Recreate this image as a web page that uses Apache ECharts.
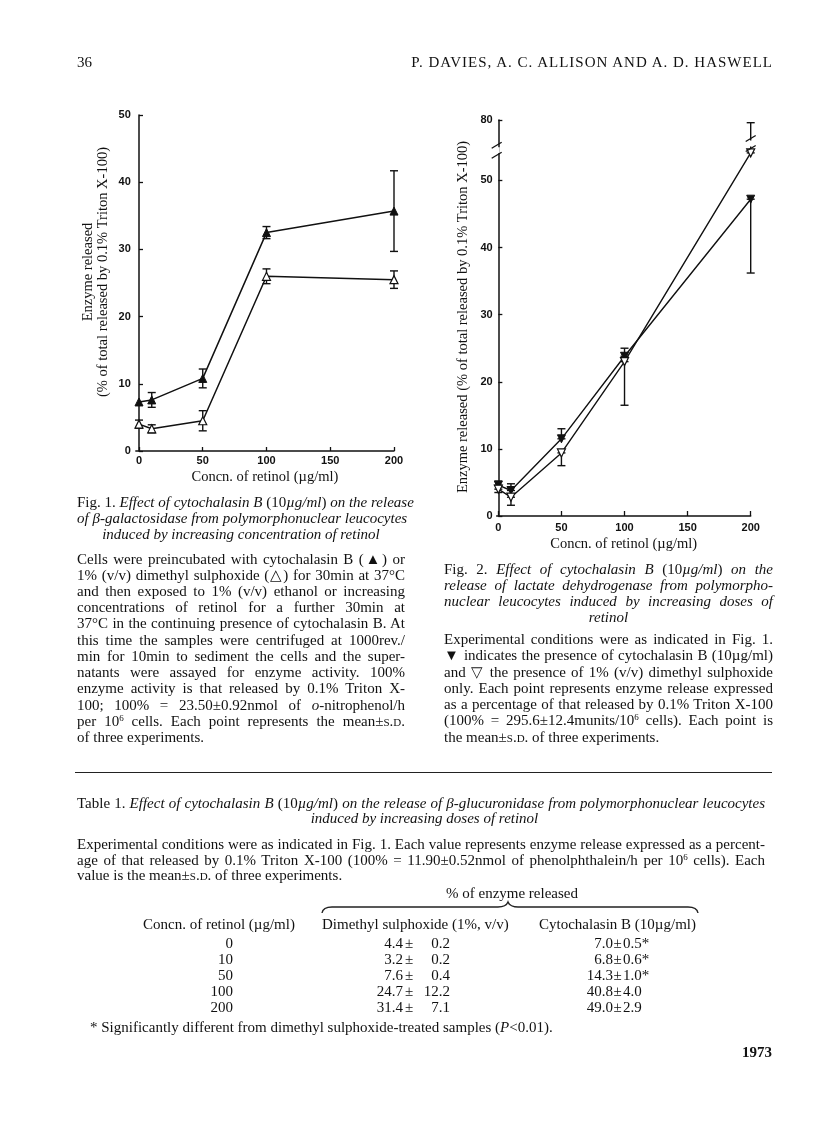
<!DOCTYPE html>
<html>
<head>
<meta charset="utf-8">
<script src="https://cdn.jsdelivr.net/npm/echarts@6/dist/echarts.min.js"></script>
<style>
  html, body { margin: 0; padding: 0; background: #fff; }
  #page { position: relative; width: 816px; height: 1136px; overflow: hidden; font-family: 'Liberation Serif', 'Times New Roman', serif; color: #111; background: #fff; }
  #chart { position: absolute; left: 0; top: 0; width: 816px; height: 1136px; }
  .ln { position: absolute; height: 16px; line-height: 16px; font-size: 15px; white-space: nowrap; }
  .j { text-align: justify; text-align-last: justify; }
  .l { text-align: left; }
  .c { text-align: center; }
  .r { text-align: right; }
  .sc { font-variant: small-caps; }
  .sup { font-size: 9px; vertical-align: 5px; line-height: 0; }
  #rule { position: absolute; left: 75px; top: 772px; width: 697px; height: 0; border-top: 1.6px solid #222; }
  #brace { position: absolute; left: 0; top: 0; }
  .cell { position: absolute; height: 16px; line-height: 16px; font-size: 15px; white-space: nowrap; }
</style>
</head>
<body>
<div id="page">
  <div id="chart"></div>
  <div id="text"></div>
  <div id="rule"></div>
  <svg id="brace" width="816" height="1136">
    <path d="M322,913 Q323,907 332,907 L498,907 Q506,907 508,902 Q510,907 518,907 L688,907 Q697,907 698,913" fill="none" stroke="#222" stroke-width="1.4"/>
  </svg>
  <div id="table"></div>
</div>
<script>
// ---------------- data ----------------
const xTicks = [0, 50, 100, 150, 200];

// Fig. 1 (beta-galactosidase)
const fig1X = [0, 10, 50, 100, 200];
const fig1CytoMean = [7.3, 7.6, 10.8, 32.5, 35.7];
const fig1CytoSD   = [0, 1.1, 1.4, 0.9, 6.0];
const fig1DmsoMean = [4.0, 3.3, 4.5, 26.0, 25.5];
const fig1DmsoSD   = [0.6, 0.6, 1.5, 1.1, 1.3];
const fig1YTicks = [0, 10, 20, 30, 40, 50];

// Fig. 2 (lactate dehydrogenase)
const fig2X = [0, 10, 50, 100, 200];
const fig2CytoMean = [4.6, 3.8, 11.5, 23.8, 47.2];
const fig2CytoLow  = [4.6, 3.8, 11.5, 23.8, 36.2];
const fig2CytoHigh = [5.2, 4.8, 13.0, 25.0, 47.2];
const fig2DmsoMean = [4.0, 2.8, 9.4, 23.0, 54.1];
const fig2DmsoLow  = [3.5, 1.6, 7.5, 16.5, 54.1];
const fig2DmsoHigh = [4.0, 2.8, 9.4, 23.0, 79.6];
const fig2YTicks = [0, 10, 20, 30, 40, 50, 80];
const fig2BreakStart = 54.5;
const fig2BreakEnd = 75.5;

// Table 1 (beta-glucuronidase)
const tblConc = [0, 10, 50, 100, 200];
const tblDmsoMean = [4.4, 3.2, 7.6, 24.7, 31.4];
const tblDmsoSD   = [0.2, 0.2, 0.4, 12.2, 7.1];
const tblCytoMean = [7.0, 6.8, 14.3, 40.8, 49.0];
const tblCytoSD   = [0.5, 0.6, 1.0, 4.0, 2.9];
const tblSignif   = [true, true, true, false, false];

// ---------------- text ----------------
const lines = [
  // [cls, left, width, centerY, html]
  ['l', 77, 100, 62, '36'],
  ['r', 380, 393, 62, '<span style="letter-spacing:1px">P. DAVIES, A. C. ALLISON AND A. D. HASWELL</span>'],
  // Fig 1 caption
  ['j', 77, 328, 502, 'Fig. 1. <i>Effect of cytochalasin B</i> (10<i>µg/ml</i>) <i>on the release</i>'],
  ['j', 77, 328, 518, '<i>of β-galactosidase from polymorphonuclear leucocytes</i>'],
  ['c', 77, 328, 534, '<i>induced by increasing concentration of retinol</i>'],
  // Fig 1 paragraph
  ['j', 77, 328, 559, 'Cells were preincubated with cytochalasin B (▲) or'],
  ['j', 77, 328, 575, '1% (v/v) dimethyl sulphoxide (△) for 30min at 37°C'],
  ['j', 77, 328, 591, 'and then exposed to 1% (v/v) ethanol or increasing'],
  ['j', 77, 328, 607, 'concentrations of retinol for a further 30min at'],
  ['j', 77, 328, 623, '37°C in the continuing presence of cytochalasin B. At'],
  ['j', 77, 328, 640, 'this time the samples were centrifuged at 1000rev./'],
  ['j', 77, 328, 656, 'min for 10min to sediment the cells and the super-'],
  ['j', 77, 328, 672, 'natants were assayed for enzyme activity. 100%'],
  ['j', 77, 328, 688, 'enzyme activity is that released by 0.1% Triton X-'],
  ['j', 77, 328, 705, '100; 100% = 23.50±0.92nmol of <i>o</i>-nitrophenol/h'],
  ['j', 77, 328, 721, 'per 10<span class="sup">6</span> cells. Each point represents the mean±<span class="sc">s.d.</span>'],
  ['l', 77, 328, 737, 'of three experiments.'],
  // Fig 2 caption
  ['j', 444, 329, 569, 'Fig. 2. <i>Effect of cytochalasin B</i> (10<i>µg/ml</i>) <i>on the</i>'],
  ['j', 444, 329, 585, '<i>release of lactate dehydrogenase from polymorpho-</i>'],
  ['j', 444, 329, 601, '<i>nuclear leucocytes induced by increasing doses of</i>'],
  ['c', 444, 329, 617, '<i>retinol</i>'],
  // Fig 2 paragraph
  ['j', 444, 329, 639, 'Experimental conditions were as indicated in Fig. 1.'],
  ['j', 444, 329, 655, '▼ indicates the presence of cytochalasin B (10µg/ml)'],
  ['j', 444, 329, 672, 'and ▽ the presence of 1% (v/v) dimethyl sulphoxide'],
  ['j', 444, 329, 688, 'only. Each point represents enzyme release expressed'],
  ['j', 444, 329, 704, 'as a percentage of that released by 0.1% Triton X-100'],
  ['j', 444, 329, 720, '(100% = 295.6±12.4munits/10<span class="sup">6</span> cells). Each point is'],
  ['l', 444, 329, 737, 'the mean±<span class="sc">s.d.</span> of three experiments.'],
  // Table caption
  ['j', 77, 688, 803, 'Table 1. <i>Effect of cytochalasin B</i> (10<i>µg/ml</i>) <i>on the release of β-glucuronidase from polymorphonuclear leucocytes</i>'],
  ['c', 77, 695, 818, '<i>induced by increasing doses of retinol</i>'],
  ['j', 77, 688, 844, 'Experimental conditions were as indicated in Fig. 1. Each value represents enzyme release expressed as a percent-'],
  ['j', 77, 688, 860, 'age of that released by 0.1% Triton X-100 (100% = 11.90±0.52nmol of phenolphthalein/h per 10<span class="sup">6</span> cells). Each'],
  ['l', 77, 688, 875, 'value is the mean±<span class="sc">s.d.</span> of three experiments.'],
  ['c', 412, 200, 893, '% of enzyme released'],
  ['l', 143, 170, 924, 'Concn. of retinol (µg/ml)'],
  ['l', 322, 210, 924, 'Dimethyl sulphoxide (1%, v/v)'],
  ['l', 539, 200, 924, 'Cytochalasin B (10µg/ml)'],
  ['l', 90, 500, 1027, '* Significantly different from dimethyl sulphoxide-treated samples (<i>P</i>&lt;0.01).'],
  ['r', 672, 100, 1052, '<b>1973</b>']
];
const textDiv = document.getElementById('text');
lines.forEach(function (d) {
  const el = document.createElement('div');
  el.className = 'ln ' + d[0];
  el.style.left = d[1] + 'px';
  el.style.width = d[2] + 'px';
  el.style.top = (d[3] - 8.5) + 'px';
  el.innerHTML = d[4];
  textDiv.appendChild(el);
});

// table body built from data arrays
const tbl = document.getElementById('table');
const rowY = [943, 959, 975, 991, 1007];
function cell(html, left, width, y, align) {
  const el = document.createElement('div');
  el.className = 'cell';
  el.style.left = left + 'px';
  el.style.width = width + 'px';
  el.style.top = (y - 8.5) + 'px';
  el.style.textAlign = align;
  el.innerHTML = html;
  tbl.appendChild(el);
}
tblConc.forEach(function (c, i) {
  const y = rowY[i];
  cell(String(c), 173, 60, y, 'right');
  cell(tblDmsoMean[i].toFixed(1), 352, 51, y, 'right');
  cell('±', 403, 12, y, 'center');
  cell(tblDmsoSD[i].toFixed(1), 415, 35, y, 'right');
  cell(tblCytoMean[i].toFixed(1), 563, 50, y, 'right');
  cell('±', 612, 11, y, 'center');
  cell(tblCytoSD[i].toFixed(1) + (tblSignif[i] ? '*' : ''), 623, 50, y, 'left');
});

// ---------------- chart ----------------
const chart = echarts.init(document.getElementById('chart'), null, { renderer: 'canvas' });
const INK = '#111';
const labelFont = { color: INK, fontWeight: 'bold', fontSize: 11, fontFamily: 'Liberation Sans' };

function errRender(params, api) {
  const x = api.value(0), lo = api.value(1), hi = api.value(2);
  if (!(hi - lo > 0)) return null;
  const p1 = api.coord([x, lo]), p2 = api.coord([x, hi]);
  const hw = 4;
  const style = { stroke: INK, lineWidth: 1.4 };
  return { type: 'group', children: [
    { type: 'line', shape: { x1: p1[0], y1: p1[1], x2: p2[0], y2: p2[1] }, style: style },
    { type: 'line', shape: { x1: p1[0] - hw, y1: p1[1], x2: p1[0] + hw, y2: p1[1] }, style: style },
    { type: 'line', shape: { x1: p2[0] - hw, y1: p2[1], x2: p2[0] + hw, y2: p2[1] }, style: style }
  ]};
}
function breakRender(params, api) {
  const p = api.coord([api.value(0), api.value(1)]);
  const x = p[0], y = p[1];
  const s = { stroke: INK, lineWidth: 1.3 };
  return { type: 'group', children: [
    { type: 'rect', shape: { x: x - 3, y: y - 3, width: 6, height: 6 }, style: { fill: '#fff' } },
    { type: 'line', shape: { x1: x - 5, y1: y - 2, x2: x + 5, y2: y - 8 }, style: s },
    { type: 'line', shape: { x1: x - 5, y1: y + 8, x2: x + 5, y2: y + 2 }, style: s }
  ]};
}
function pairs(xs, ys) { return xs.map(function (x, i) { return [x, ys[i]]; }); }
function errData(xs, lo, hi) { return xs.map(function (x, i) { return [x, lo[i], hi[i]]; }); }

const fig1XMin = -2.5, fig2XMin = -1.3;

const axisLineStyle = { show: true, lineStyle: { color: INK, width: 1.5 } };

const option = {
  animation: false,
  backgroundColor: 'transparent',
  grid: [
    { left: 135.8, top: 115, width: 258.2, height: 336 },
    { left: 496.7, top: 120, width: 254, height: 396 }
  ],
  xAxis: [
    {
      gridIndex: 0, type: 'value', min: fig1XMin, max: 200,
      axisLine: axisLineStyle,
      axisTick: { show: true, inside: true, length: 4, lineStyle: { color: INK, width: 1.3 }, customValues: xTicks },
      axisLabel: Object.assign({ customValues: xTicks, margin: 4 }, labelFont),
      splitLine: { show: false },
      name: 'Concn. of retinol (µg/ml)', nameLocation: 'middle', nameGap: 19,
      nameTextStyle: { color: INK, fontSize: 14.5, fontFamily: 'Liberation Serif' }
    },
    {
      gridIndex: 1, type: 'value', min: fig2XMin, max: 200,
      axisLine: axisLineStyle,
      axisTick: { show: true, inside: true, length: 5, lineStyle: { color: INK, width: 1.3 }, customValues: xTicks },
      axisLabel: Object.assign({ customValues: xTicks, margin: 6 }, labelFont),
      splitLine: { show: false },
      name: 'Concn. of retinol (µg/ml)', nameLocation: 'middle', nameGap: 21,
      nameTextStyle: { color: INK, fontSize: 14.5, fontFamily: 'Liberation Serif' }
    }
  ],
  yAxis: [
    {
      gridIndex: 0, type: 'value', min: 0, max: 50,
      axisLine: axisLineStyle,
      axisTick: { show: true, inside: true, length: 4, lineStyle: { color: INK, width: 1.3 }, customValues: fig1YTicks },
      axisLabel: Object.assign({ customValues: fig1YTicks, margin: 5 }, labelFont),
      splitLine: { show: false }
    },
    {
      gridIndex: 1, type: 'value', min: 0, max: 80,
      breaks: [{ start: fig2BreakStart, end: fig2BreakEnd, gap: 0 }],
      breakArea: { show: false },
      axisLine: axisLineStyle,
      axisTick: { show: true, inside: true, length: 4, lineStyle: { color: INK, width: 1.3 }, customValues: fig2YTicks },
      axisLabel: Object.assign({ customValues: fig2YTicks, margin: 4 }, labelFont),
      splitLine: { show: false }
    }
  ],
  graphic: [
    { type: 'text', x: 95.5, y: 272, rotation: Math.PI / 2, z: 100,
      style: { text: 'Enzyme released\n(% of total released by 0.1% Triton X-100)', fontSize: 14.5, fontFamily: 'Liberation Serif', lineHeight: 15, fill: INK, align: 'center', verticalAlign: 'middle' } },
    { type: 'text', x: 463, y: 317, rotation: Math.PI / 2, z: 100,
      style: { text: 'Enzyme released (% of total released by 0.1% Triton X-100)', fontSize: 14.5, fontFamily: 'Liberation Serif', fill: INK, align: 'center', verticalAlign: 'middle' } }
  ],
  series: [
    // Fig 1 error bars
    { type: 'custom', xAxisIndex: 0, yAxisIndex: 0, renderItem: errRender, z: 3, encode: { x: 0, y: [1, 2] },
      data: errData(fig1X, fig1CytoMean.map(function (m, i) { return m - fig1CytoSD[i]; }), fig1CytoMean.map(function (m, i) { return m + fig1CytoSD[i]; })) },
    { type: 'custom', xAxisIndex: 0, yAxisIndex: 0, renderItem: errRender, z: 3, encode: { x: 0, y: [1, 2] },
      data: errData(fig1X, fig1DmsoMean.map(function (m, i) { return m - fig1DmsoSD[i]; }), fig1DmsoMean.map(function (m, i) { return m + fig1DmsoSD[i]; })) },
    // Fig 1 lines
    { type: 'line', name: 'Cytochalasin B', xAxisIndex: 0, yAxisIndex: 0, data: pairs(fig1X, fig1CytoMean), z: 4,
      symbol: 'triangle', symbolSize: 8, lineStyle: { color: INK, width: 1.5 },
      itemStyle: { color: INK, borderColor: INK, borderWidth: 1 } },
    { type: 'line', name: 'Dimethyl sulphoxide', xAxisIndex: 0, yAxisIndex: 0, data: pairs(fig1X, fig1DmsoMean), z: 4,
      symbol: 'triangle', symbolSize: 8, lineStyle: { color: INK, width: 1.5 },
      itemStyle: { color: '#fff', borderColor: INK, borderWidth: 1.2 } },
    // Fig 2 error bars
    { type: 'custom', xAxisIndex: 1, yAxisIndex: 1, renderItem: errRender, z: 3, encode: { x: 0, y: [1, 2] },
      data: errData(fig2X, fig2CytoLow, fig2CytoHigh) },
    { type: 'custom', xAxisIndex: 1, yAxisIndex: 1, renderItem: errRender, z: 3, encode: { x: 0, y: [1, 2] },
      data: errData(fig2X, fig2DmsoLow, fig2DmsoHigh) },
    // Fig 2 lines
    { type: 'line', name: 'Cytochalasin B', xAxisIndex: 1, yAxisIndex: 1, data: pairs(fig2X, fig2CytoMean), z: 4,
      symbol: 'triangle', symbolRotate: 180, symbolSize: 8, lineStyle: { color: INK, width: 1.4 },
      itemStyle: { color: INK, borderColor: INK, borderWidth: 1 } },
    { type: 'line', name: 'Dimethyl sulphoxide', xAxisIndex: 1, yAxisIndex: 1, data: pairs(fig2X, fig2DmsoMean), z: 4,
      symbol: 'triangle', symbolRotate: 180, symbolSize: 8, lineStyle: { color: INK, width: 1.4 },
      itemStyle: { color: '#fff', borderColor: INK, borderWidth: 1.2 } },
    // axis-break marks on Fig 2 (y axis, and the 200 µg/ml error bar just above the break)
    { type: 'custom', xAxisIndex: 1, yAxisIndex: 1, renderItem: breakRender, z: 10, silent: true,
      encode: { x: 0, y: 1 },
      data: [[fig2XMin, fig2BreakStart], [fig2X[fig2X.length - 1], fig2BreakEnd + 1]] }
  ]
};
chart.setOption(option);
</script>
</body>
</html>
